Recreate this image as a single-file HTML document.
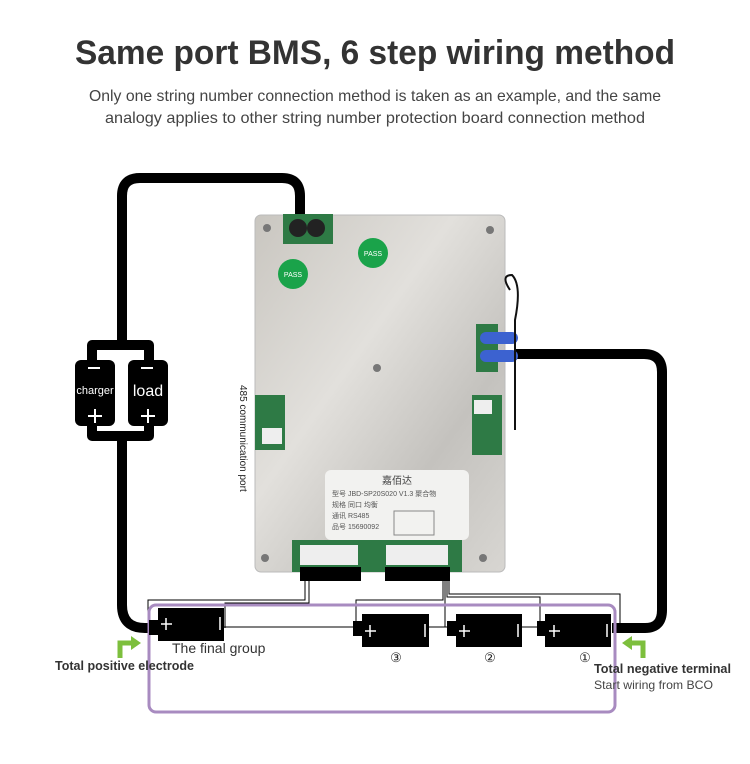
<!DOCTYPE html>
<html><head><meta charset="utf-8"><style>
html,body{margin:0;padding:0;background:#fff;}
svg{display:block;font-family:"Liberation Sans",sans-serif;}
</style></head><body>
<svg width="750" height="764" viewBox="0 0 750 764" xmlns="http://www.w3.org/2000/svg">
<defs>
<linearGradient id="metal" x1="0" y1="0" x2="1" y2="1">
<stop offset="0" stop-color="#c9c6c0"/><stop offset="0.4" stop-color="#e2e0dc"/><stop offset="0.7" stop-color="#c4c2be"/><stop offset="1" stop-color="#d8d6d2"/>
</linearGradient>
</defs>
<text x="375" y="64" text-anchor="middle" font-size="34" font-weight="bold" fill="#333" textLength="600" lengthAdjust="spacingAndGlyphs">Same port BMS, 6 step wiring method</text>
<text x="375" y="101" text-anchor="middle" font-size="16" fill="#444" textLength="572" lengthAdjust="spacingAndGlyphs">Only one string number connection method is taken as an example, and the same</text>
<text x="375" y="123" text-anchor="middle" font-size="16" fill="#444" textLength="540" lengthAdjust="spacingAndGlyphs">analogy applies to other string number protection board connection method</text>

<!-- thick wires -->
<g fill="none" stroke="#000" stroke-width="10" stroke-linejoin="round">
<path d="M300 222 V196 Q300 178 282 178 H140 Q122 178 122 196 V345"/>
<path d="M92 378 V345 H149 V378"/>
<path d="M92 410 V436 H149 V410"/>
<path d="M122 436 V605 Q122 628 145 628 H158"/>
<path d="M612 628 H645 Q662 628 662 610 V372 Q662 354 644 354 H515"/>
</g>
<!-- charger/load -->
<rect x="75" y="360" width="40" height="66" rx="6" fill="#000"/>
<rect x="128" y="360" width="40" height="66" rx="6" fill="#000"/>
<g stroke="#fff" stroke-width="2"><line x1="88" y1="368" x2="100" y2="368"/><line x1="141" y1="368" x2="153" y2="368"/>
<line x1="88" y1="416" x2="102" y2="416"/><line x1="95" y1="409" x2="95" y2="423"/>
<line x1="141" y1="416" x2="155" y2="416"/><line x1="148" y1="409" x2="148" y2="423"/></g>
<text x="95" y="394" text-anchor="middle" font-size="11" fill="#fff">charger</text>
<text x="148" y="396" text-anchor="middle" font-size="16" fill="#fff">load</text>

<!-- board -->
<rect x="255" y="215" width="250" height="357" rx="6" fill="url(#metal)" stroke="#bbb"/>
<rect x="283" y="214" width="50" height="30" fill="#2e7a45"/>
<circle cx="298" cy="228" r="9" fill="#222"/><circle cx="316" cy="228" r="9" fill="#222"/>
<circle cx="373" cy="253" r="15" fill="#1aa34a"/><circle cx="293" cy="274" r="15" fill="#1aa34a"/>
<text x="373" y="256" text-anchor="middle" font-size="7" fill="#fff">PASS</text>
<text x="293" y="277" text-anchor="middle" font-size="7" fill="#fff">PASS</text>
<rect x="476" y="324" width="22" height="48" fill="#2e7a45"/>
<rect x="480" y="332" width="38" height="12" rx="6" fill="#3c62d0"/>
<rect x="480" y="350" width="38" height="12" rx="6" fill="#3c62d0"/>
<path d="M510 290 Q500 275 512 275 Q522 285 515 320 V430" stroke="#111" stroke-width="2" fill="none"/>
<rect x="255" y="395" width="30" height="55" fill="#2e7a45"/><rect x="262" y="428" width="20" height="16" fill="#eee"/>
<rect x="472" y="395" width="30" height="60" fill="#2e7a45"/><rect x="474" y="400" width="18" height="14" fill="#eee"/>
<rect x="325" y="470" width="144" height="70" rx="6" fill="#f2f2f0"/>
<text x="397" y="484" text-anchor="middle" font-size="10" fill="#444" font-family="Liberation Sans,Noto Sans CJK SC,sans-serif">嘉佰达</text>
<text x="332" y="496" font-size="7" fill="#555" font-family="Liberation Sans,Noto Sans CJK SC,sans-serif">型号 JBD-SP20S020 V1.3 聚合物</text>
<text x="332" y="507" font-size="7" fill="#555" font-family="Liberation Sans,Noto Sans CJK SC,sans-serif">规格        同口 均衡</text>
<text x="332" y="518" font-size="7" fill="#555" font-family="Liberation Sans,Noto Sans CJK SC,sans-serif">通讯  RS485</text>
<text x="332" y="529" font-size="7" fill="#555" font-family="Liberation Sans,Noto Sans CJK SC,sans-serif">品号 15690092</text>
<rect x="394" y="511" width="40" height="24" fill="none" stroke="#888"/>
<rect x="292" y="540" width="170" height="32" fill="#2e7a45"/>
<rect x="300" y="545" width="58" height="20" fill="#eee"/><rect x="386" y="545" width="62" height="20" fill="#eee"/>
<g fill="#777"><circle cx="267" cy="228" r="4"/><circle cx="490" cy="230" r="4"/><circle cx="377" cy="368" r="4"/><circle cx="265" cy="558" r="4"/><circle cx="483" cy="558" r="4"/></g>
<text transform="translate(240 385) rotate(90)" font-size="10" fill="#222">485 communication port</text>

<!-- connectors -->
<rect x="300" y="567" width="61" height="14" fill="#000"/>
<rect x="385" y="567" width="65" height="14" fill="#000"/>
<!-- thin lines -->
<g fill="none" stroke="#000" stroke-width="1">
<path d="M305 581 V600 H148 V628"/>
<path d="M309 581 V603 H225 V628"/>
<path d="M222 627 H541"/>
<path d="M443 581 V600 H356 V628"/>
<path d="M445 581 V627"/>
<path d="M447 581 V597 H540 V628"/>
<path d="M449 581 V594 H620 V628"/>
</g>
<!-- purple rect -->
<rect x="149" y="605" width="466" height="107" rx="7" fill="none" stroke="#a88bc0" stroke-width="3"/>
<!-- batteries -->
<g fill="#000">
<rect x="158" y="608" width="66" height="33"/><rect x="149" y="620" width="12" height="15"/>
<rect x="362" y="614" width="67" height="33"/><rect x="353" y="621" width="12" height="15"/>
<rect x="456" y="614" width="66" height="33"/><rect x="447" y="621" width="12" height="15"/>
<rect x="545" y="614" width="66" height="33"/><rect x="537" y="621" width="12" height="15"/>
</g>
<g stroke="#fff" stroke-width="1.5">
<line x1="161" y1="624" x2="172" y2="624"/><line x1="166" y1="618" x2="166" y2="630"/><line x1="220" y1="617" x2="220" y2="630"/>
<line x1="365" y1="631" x2="376" y2="631"/><line x1="370" y1="625" x2="370" y2="637"/><line x1="425" y1="624" x2="425" y2="637"/>
<line x1="459" y1="631" x2="470" y2="631"/><line x1="464" y1="625" x2="464" y2="637"/><line x1="518" y1="624" x2="518" y2="637"/>
<line x1="549" y1="631" x2="560" y2="631"/><line x1="554" y1="625" x2="554" y2="637"/><line x1="607" y1="624" x2="607" y2="637"/>
</g>
<text x="172" y="653" font-size="14" fill="#333">The final group</text>
<text x="396" y="662" text-anchor="middle" font-size="13" fill="#222">③</text>
<text x="490" y="662" text-anchor="middle" font-size="13" fill="#222">②</text>
<text x="585" y="662" text-anchor="middle" font-size="13" fill="#222">①</text>
<!-- green arrows -->
<g fill="none" stroke="#7dbf3d" stroke-width="5"><path d="M120 658 V643 H132"/><path d="M643 658 V643 H631"/></g>
<path d="M131 636 L141 643 L131 650Z" fill="#7dbf3d"/><path d="M632 636 L622 643 L632 650Z" fill="#7dbf3d"/>
<text x="55" y="670" font-size="13" font-weight="bold" fill="#333" textLength="139" lengthAdjust="spacingAndGlyphs">Total positive electrode</text>
<text x="594" y="673" font-size="13" font-weight="bold" fill="#333" textLength="137" lengthAdjust="spacingAndGlyphs">Total negative terminal</text>
<text x="594" y="689" font-size="12" fill="#444" textLength="119" lengthAdjust="spacingAndGlyphs">Start wiring from BCO</text>
</svg>
</body></html>
